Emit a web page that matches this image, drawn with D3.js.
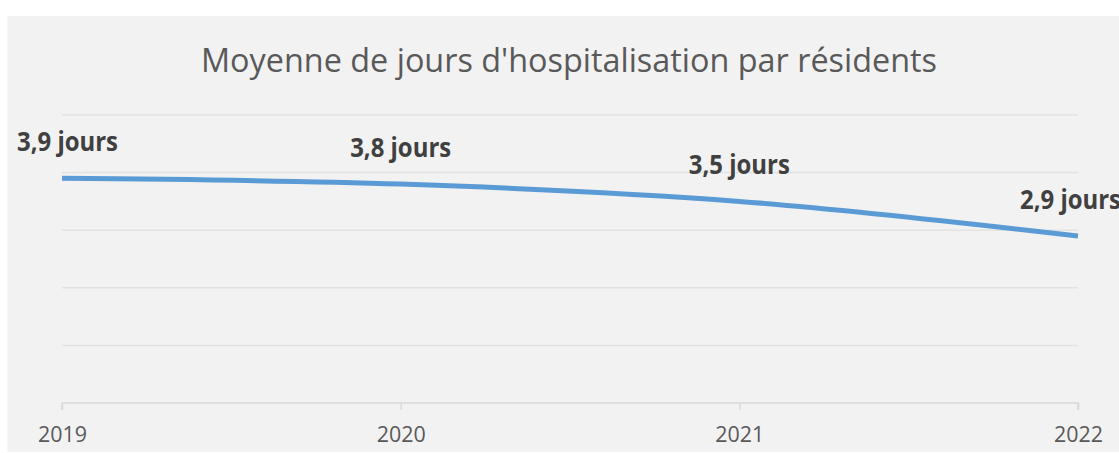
<!DOCTYPE html>
<html>
<head>
<meta charset="utf-8">
<script src="https://cdn.jsdelivr.net/npm/d3@7"></script>
<style>
  html, body { margin: 0; padding: 0; background: #fff; overflow: hidden; }
  svg { display: block; }
</style>
</head>
<body>
<div class="chart"></div>
<script>
// data
var years = ["2019", "2020", "2021", "2022"];
var values = [3.9, 3.8, 3.5, 2.9];
var labels = ["3,9 jours", "3,8 jours", "3,5 jours", "2,9 jours"];
var gridValues = [0, 1, 2, 3, 4, 5];
var title = "Moyenne de jours d'hospitalisation par résidents";

const W = 1119, H = 453;

const svg = d3.select(".chart").append("svg")
    .attr("width", W)
    .attr("height", H);

// chart background
svg.append("rect")
    .attr("x", 7.5).attr("y", 16)
    .attr("width", W).attr("height", H - 17)
    .attr("fill", "#f2f2f2");

const x = d3.scalePoint()
    .domain(years)
    .range([62, 1078]);

const y = d3.scaleLinear()
    .domain([0, 5])
    .range([403, 115]);

// gridlines
svg.append("g")
    .selectAll("line")
    .data(gridValues.slice(1))
    .enter().append("line")
    .attr("x1", 62)
    .attr("x2", 1078)
    .attr("y1", function(d){ return y(d) })
    .attr("y2", function(d){ return y(d) })
    .attr("stroke", "#e2e2e2")
    .attr("stroke-width", 1.5);

// x axis
const xAxis = svg.append("g")
    .attr("transform", "translate(0," + y(0) + ")")
    .call(d3.axisBottom(x).tickSize(7).tickPadding(14));
xAxis.select(".domain").attr("stroke", "#d9d9d9").attr("stroke-width", 1.5)
    .attr("d", "M62,7V0H1078V7");
xAxis.selectAll(".tick line").attr("stroke", "#d9d9d9").attr("stroke-width", 1.5);
xAxis.selectAll(".tick text")
    .attr("y", 0).attr("dy", 0)
    .attr("transform", "translate(0,39)")
    .attr("fill", "#595959")
    .style("font-family", "'Open Sans', sans-serif")
    .style("font-size", "21px")
    .attr("textLength", 49)
    .attr("lengthAdjust", "spacingAndGlyphs");

// line
const line = d3.line()
    .x(function(d, i){ return x(years[i]) })
    .y(function(d){ return y(d) })
    .curve(d3.curveCatmullRom.alpha(0.5));

svg.append("path")
    .datum(values)
    .attr("d", line)
    .attr("fill", "none")
    .attr("stroke", "#5b9bd5")
    .attr("stroke-width", 5)
    .attr("stroke-linecap", "butt");

// data labels
const labelW = 101;
svg.append("g")
    .selectAll("text")
    .data(values)
    .enter().append("text")
    .attr("x", function(d, i){
        var cx = x(years[i]);
        return Math.max(17 + labelW / 2, Math.min(cx, 1020 + labelW / 2));
    })
    .attr("y", function(d){ return y(d) - 27 })
    .attr("text-anchor", "middle")
    .attr("fill", "#404040")
    .style("font-family", "'Open Sans', sans-serif")
    .style("font-weight", "bold")
    .style("font-size", "26px")
    .attr("textLength", labelW)
    .attr("lengthAdjust", "spacingAndGlyphs")
    .text(function(d, i){ return labels[i] });

// title
svg.append("text")
    .attr("x", 569)
    .attr("y", 72)
    .attr("text-anchor", "middle")
    .attr("fill", "#595959")
    .style("font-family", "'Open Sans', sans-serif")
    .style("font-size", "33px")
    .attr("textLength", 736)
    .attr("lengthAdjust", "spacingAndGlyphs")
    .text(title);
</script>
</body>
</html>
